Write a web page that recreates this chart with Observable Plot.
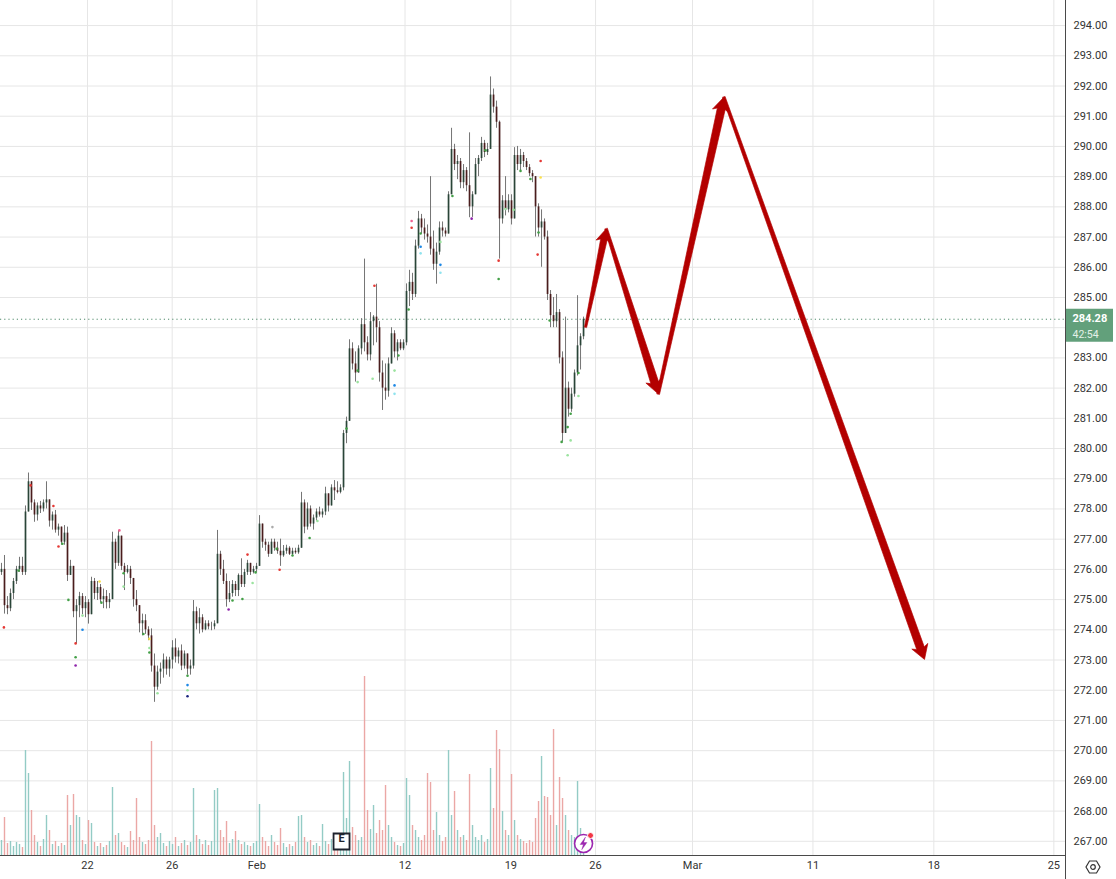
<!DOCTYPE html>
<html>
<head>
<meta charset="utf-8">
<script src="https://cdn.jsdelivr.net/npm/d3@7"></script>
<script src="https://cdn.jsdelivr.net/npm/@observablehq/plot@0.6"></script>
<style>
html, body { margin: 0; padding: 0; background: #fff; }
#chart { position: relative; width: 1116px; height: 879px; overflow: hidden; background: #fff; }
#chart > svg { position: absolute; left: 0; top: 0; }
</style>
</head>
<body>
<div id="chart"></div>
<script>
// ---------- DATA ----------
// time axis: trading-session index, 0 = Jan 22
const dateTickPos    = [0, 4, 8, 15, 20, 24, 28.58, 34.27, 39.98, 45.65];
const dateTickLabels = ["22", "26", "Feb", "12", "19", "26", "Mar", "11", "18", "25"];
const priceTicks = d3.range(267, 295); // 267.00 … 294.00

// bars: first bar time, spacing (sessions per bar)
const firstBarTime = -4.063;
const barStep = 0.14173;
const firstOpen = 275.9;

const barHigh = [
  276.2, 276.46, 275.1, 275.35, 275.7, 276.1, 276.4, 276.4, 278.1, 279.19,
  278.9, 278.3, 278.2, 278.25, 278.3, 278.9, 278.3, 277.9, 277.95, 277.5,
  277.4, 277.45, 277.4, 276.3, 276.0, 275.0, 275.24, 275.2, 275.1, 275.0,
  275.74, 275.7, 275.6, 275.5, 275.35, 275.3, 275.2, 277.23, 277.0, 277.29,
  277.1, 276.2, 276.13, 276.1, 275.6, 275.3, 274.6, 274.52, 274.5, 274.1,
  274.03, 273.2, 272.8, 272.9, 273.2, 273.1, 273.09, 273.64, 273.7, 273.4,
  273.5, 273.3, 273.2, 273.0, 274.97, 274.75, 274.7, 274.5, 274.3, 274.3,
  274.25, 274.3, 277.29, 276.6, 276.3, 275.85, 275.6, 275.63, 275.6, 275.85,
  276.35, 276.0, 276.3, 276.2, 276.1, 276.2, 277.78, 277.45, 277.0, 276.9,
  277.0, 277.0, 276.9, 277.0, 276.79, 276.8, 276.75, 276.7, 276.7, 276.8,
  278.55, 278.3, 278.2, 278.1, 277.8, 278.0, 278.06, 278.0, 278.72, 278.5,
  278.8, 278.94, 278.9, 278.8, 280.6, 281.04, 283.6, 283.5, 283.2, 283.4,
  284.3, 286.27, 283.7, 284.5, 284.4, 285.44, 284.2, 282.9, 282.8, 283.0,
  284.0, 283.9, 283.6, 283.6, 283.6, 285.45, 285.9, 285.8, 286.9, 287.85,
  287.75, 287.6, 287.4, 289.0, 287.2, 286.8, 287.5, 287.5, 287.3, 288.5,
  290.6, 290.07, 289.7, 289.6, 289.4, 289.3, 290.45, 288.5, 289.6, 289.7,
  290.3, 290.2, 290.1, 292.3, 291.9, 291.5, 290.84, 288.37, 289.0, 288.4,
  288.4, 289.96, 290.0, 289.9, 289.8, 289.6, 289.4, 289.2, 288.9, 288.1,
  287.9, 287.6, 287.2, 285.23, 285.0, 285.1, 284.6, 283.2, 284.35, 282.2,
  282.0, 282.6, 285.06, 283.8, 284.35
];
const barLow = [
  275.8, 274.52, 274.5, 274.6, 275.0, 275.5, 275.9, 275.8, 275.8, 277.9,
  277.95, 277.56, 277.6, 277.85, 277.9, 278.0, 277.4, 277.3, 277.2, 277.1,
  276.8, 276.8, 275.6, 275.8, 274.4, 273.53, 274.4, 274.5, 274.4, 274.19,
  274.5, 275.0, 274.97, 274.9, 274.7, 274.69, 274.7, 275.0, 276.0, 276.1,
  275.96, 275.3, 275.85, 275.5, 274.75, 274.6, 273.9, 273.8, 273.85, 273.64,
  272.6, 271.6, 272.0, 272.2, 272.4, 272.5, 272.43, 272.7, 272.9, 272.87,
  272.65, 272.7, 272.5, 272.5, 272.7, 274.0, 273.86, 273.9, 273.97, 274.0,
  273.97, 274.0, 274.2, 275.8, 275.5, 274.75, 274.9, 275.08, 275.1, 275.1,
  275.4, 275.4, 275.8, 275.8, 275.85, 275.9, 276.1, 276.7, 276.6, 276.4,
  276.5, 276.6, 276.5, 276.1, 276.4, 276.5, 276.46, 276.46, 276.5, 276.5,
  276.7, 277.18, 277.3, 277.4, 277.3, 277.6, 277.73, 277.7, 277.78, 277.9,
  278.1, 278.28, 278.5, 278.5, 278.6, 280.16, 280.9, 282.6, 282.2, 282.6,
  283.1, 283.2, 282.9, 282.9, 283.4, 283.5, 282.2, 281.26, 281.6, 281.7,
  282.8, 283.0, 282.9, 283.24, 283.24, 283.4, 284.7, 284.9, 285.0, 286.6,
  287.1, 286.9, 286.8, 286.4, 285.9, 285.44, 286.4, 287.0, 287.0, 287.1,
  288.4, 289.2, 288.9, 288.6, 288.6, 288.5, 287.64, 287.65, 288.4, 289.0,
  289.5, 289.63, 289.7, 289.9, 291.1, 290.6, 286.27, 287.43, 287.7, 287.8,
  287.4, 287.6, 289.2, 289.2, 289.3, 289.2, 289.0, 288.8, 287.0, 287.0,
  286.0, 286.9, 284.9, 284.0, 284.0, 284.0, 282.8, 280.22, 280.5, 281.04,
  281.2, 281.7, 282.4, 282.6, 283.6
];
const barClose = [
  276.0, 274.8, 274.7, 275.2, 275.6, 276.0, 276.1, 275.9, 277.9, 278.9,
  278.2, 277.8, 278.1, 278.0, 278.2, 278.3, 277.6, 277.8, 277.3, 277.4,
  276.9, 277.2, 275.8, 276.1, 274.6, 274.8, 275.1, 274.7, 274.9, 274.5,
  275.6, 275.2, 275.4, 275.0, 275.1, 274.9, 275.0, 276.9, 276.2, 277.1,
  276.1, 275.9, 276.0, 275.7, 275.0, 274.8, 274.2, 274.3, 274.0, 273.8,
  272.8, 272.1, 272.6, 272.7, 273.0, 272.7, 273.0, 273.4, 273.1, 273.3,
  272.8, 273.2, 272.7, 272.8, 274.6, 274.2, 274.4, 274.0, 274.2, 274.1,
  274.1, 274.2, 276.5, 276.0, 275.6, 275.0, 275.2, 275.5, 275.3, 275.8,
  275.5, 275.9, 276.2, 275.9, 276.0, 276.1, 277.5, 276.9, 276.8, 276.5,
  276.9, 276.7, 276.6, 276.45, 276.6, 276.7, 276.5, 276.6, 276.55, 276.7,
  278.2, 277.4, 278.0, 277.5, 277.7, 277.9, 277.8, 277.9, 278.5, 278.1,
  278.7, 278.6, 278.55, 278.7, 280.5, 280.9, 283.3, 282.8, 282.5, 283.3,
  284.1, 283.5, 283.1, 284.2, 284.35, 284.0, 282.5, 282.0, 281.9, 282.8,
  283.8, 283.2, 283.5, 283.3, 283.5, 285.2, 285.5, 285.1, 286.7, 287.6,
  287.3, 287.1, 287.0, 286.6, 286.1, 286.5, 287.3, 287.2, 287.1, 288.4,
  289.9, 289.4, 289.5, 288.8, 289.2, 288.7, 288.0, 288.4, 289.4, 289.6,
  290.1, 289.8, 289.9, 291.7, 291.3, 290.8, 287.6, 288.2, 287.9, 288.2,
  287.6, 289.7, 289.4, 289.7, 289.5, 289.3, 289.1, 289.0, 288.0, 287.3,
  287.5, 287.0, 285.1, 284.4, 284.2, 284.5, 283.0, 280.5, 282.0, 281.3,
  281.8, 282.5, 283.4, 283.7, 284.28
];
// volume, thousands of shares
const barVolume = [
  150, 380, 120, 140, 90, 130, 110, 80, 1050, 820,
  450, 200, 130, 90, 160, 400, 250, 110, 140, 90,
  120, 100, 600, 300, 610, 400, 380, 150, 110, 350,
  320, 130, 90, 120, 80, 100, 140, 680, 200, 220,
  130, 100, 80, 240, 150, 570, 180, 130, 110, 150,
  1140, 300, 180, 220, 120, 90, 140, 110, 180, 90,
  120, 150, 100, 130, 670, 200, 160, 110, 150, 100,
  140, 650, 670, 250, 180, 340, 120, 160, 240, 150,
  110, 130, 100, 90, 120, 140, 510, 180, 140, 90,
  200, 130, 100, 270, 120, 80, 110, 90, 130, 390,
  400, 180, 130, 150, 100, 120, 90, 310, 140, 110,
  160, 120, 90, 130, 830, 370, 940, 280, 200, 150,
  180, 1790, 450, 260, 500, 220, 350, 250, 700, 300,
  180, 130, 100, 90, 120, 770, 600, 300, 250, 180,
  150, 200, 820, 730, 250, 430, 200, 140, 180, 1050,
  400, 640, 250, 180, 200, 150, 810, 300, 180, 150,
  200, 130, 160, 870, 470, 1250, 1060, 440, 250, 200,
  810, 350, 200, 160, 140, 120, 150, 130, 370, 540,
  990, 590, 580, 400, 1260, 300, 780, 570, 400, 250,
  200, 180, 740, 270, 150
];

// small indicator markers (bar number, price, kind)
const dotBar = [0.8, 5.7, 9.7, 17.3, 19, 20.3, 22.3, 24.7, 24.7, 24.7, 27, 27, 32.7, 33.3, 39.3, 40.7, 40.7, 47.3, 49.3, 49.3, 49.3, 52, 62, 62, 62, 62, 75.7, 77, 80.3, 82, 83.7, 84.7, 90.3, 91.7, 92.7, 97, 102.7, 105.3, 115, 118.7, 118.7, 123.7, 124.3, 131, 131, 131, 132.3, 135.7, 136.7, 136.7, 139.7, 139.7, 139.7, 146.3, 146.3, 146.3, 150.3, 156.7, 161.3, 165.7, 165.7, 168, 170.7, 173, 176.3, 179.7, 179.7, 178.7, 179, 182.7, 186.7, 188.7, 188.7, 189.7, 189.7, 192.3, 192.3];
const dotPrice = [274.08, 275.96, 278.78, 278.1, 276.76, 276.85, 274.99, 273.55, 273.09, 272.82, 274.47, 274.0, 275.6, 274.9, 277.29, 275.87, 275.43, 273.86, 273.7, 273.4, 273.25, 271.9, 272.48, 272.17, 272.0, 271.8, 274.67, 274.97, 275.02, 276.49, 275.55, 275.9, 277.4, 276.68, 275.99, 276.46, 277.04, 277.6, 280.66, 282.58, 282.2, 282.31, 285.39, 282.58, 282.09, 281.81, 283.08, 284.6, 287.53, 287.31, 287.12, 286.68, 286.46, 286.84, 286.08, 285.82, 288.36, 287.61, 289.87, 286.22, 285.61, 287.93, 287.9, 289.19, 288.92, 289.52, 288.97, 286.42, 287.15, 284.24, 280.22, 280.71, 279.78, 280.27, 281.15, 282.5, 281.74];
const dotKind = ["red","green","red","red","red","green","green","red","green","purple","lime","blue","yellow","green","pink","green","lime","green","yellow","lime","green","lime","green","blue","lime","navy","purple","green","green","red","lime","green","gray","green","red","green","green","lime","green","green","lime","lime","red","lime","blue","cyan","green","green","pink","red","green","blue","cyan","lime","blue","cyan","green","purple","green","red","green","lime","lime","green","green","red","yellow","red","green","green","green","green","lime","lime","green","green","lime"];

// drawn forecast arrows: vertices (session index, price)
const arrowTime  = [23.53, 24.50, 26.96, 30.06, 39.54];
const arrowPrice = [284.02, 287.27, 281.81, 291.63, 273.02];

const lastPrice = 284.28;
const countdown = "42:54";
const earningsTime = [12.0];

// ---------- STYLE ----------
const X_DOMAIN = [-4.11, 46.2];
const Y_DOMAIN = [266.53, 294.83];
const VOL_DOMAIN = [0, 8550];
const W = 1116, H = 879;
const frame = {width: W, height: H, marginLeft: 0, marginRight: 51, marginTop: 0, marginBottom: 24};
const baseStyle = {fontFamily: "Roboto, 'Liberation Sans', sans-serif", fontSize: "11px", color: "#333", background: "transparent", overflow: "visible"};
const GRID = "#e6e6e6";
const UP_BODY = "#2a4538", DOWN_BODY = "#4a1d1d", WICK = "#747474";
const UP_VOL = "#93cbc5", DOWN_VOL = "#eba7a5";
const ARROW = "#b30000";
const NEWS = "#9c27b0";
const palette = {green: "#43a047", lime: "#9be39f", red: "#e53935", pink: "#f06292", blue: "#1e88e5", purple: "#8e24aa", yellow: "#fbe14b", cyan: "#8fe3ee", navy: "#1a237e", gray: "#aaaaaa"};

// ---------- BUILD ----------
const bars = barClose.map((c, i) => {
  const o = i ? barClose[i - 1] : firstOpen;
  return {t: firstBarTime + i * barStep, open: o, close: c,
          high: Math.max(barHigh[i], o, c), low: Math.min(barLow[i], o, c), volume: barVolume[i]};
});
const dots = dotBar.slice(0, Math.min(dotBar.length, dotPrice.length, dotKind.length))
  .map((b, i) => ({t: firstBarTime + b * barStep, p: dotPrice[i], kind: dotKind[i]}));
const tickLabel = new Map(dateTickPos.map((p, i) => [p, dateTickLabels[i]]));
const lastTime = bars[bars.length - 1].t;
// the last-price badge hides the scale label it covers
const axisPriceTicks = priceTicks.filter(p => Math.abs(p - lastPrice) > 0.5);

const chart = document.getElementById("chart");

// layer 1: grid
const gridLayer = Plot.plot({
  ...frame, style: {...baseStyle, background: "#fff"},
  x: {domain: X_DOMAIN, axis: null},
  y: {domain: Y_DOMAIN, axis: null},
  marks: [
    Plot.ruleY(priceTicks, {stroke: GRID}),
    Plot.ruleX(dateTickPos, {stroke: GRID})
  ]
});
chart.append(gridLayer);

// layer 2: volume
const volLayer = Plot.plot({
  ...frame, style: baseStyle,
  x: {domain: X_DOMAIN, axis: null},
  y: {domain: VOL_DOMAIN, axis: null},
  marks: [
    Plot.ruleX(bars, {x: "t", y1: 0, y2: "volume", strokeWidth: 1.4,
      stroke: d => d.close >= d.open ? UP_VOL : DOWN_VOL})
  ]
});
chart.append(volLayer);

// arrows, sized through the plot's own scales
const sx = gridLayer.scale("x"), sy = gridLayer.scale("y");
function arrowShape(w0, w1, hw, hl) {
  return {draw(ctx, l) {
    const b = l - hl;
    ctx.moveTo(w0, 0);
    ctx.lineTo(w1, -(b + 2));
    ctx.lineTo(hw, -b);
    ctx.lineTo(0, -l);
    ctx.lineTo(-hw, -b);
    ctx.lineTo(-w1, -(b + 2));
    ctx.lineTo(-w0, 0);
    ctx.closePath();
  }};
}
const arrowMarks = [];
for (let i = 0; i < arrowTime.length - 1; i++) {
  const x1 = sx.apply(arrowTime[i]), y1 = sy.apply(arrowPrice[i]);
  const x2 = sx.apply(arrowTime[i + 1]), y2 = sy.apply(arrowPrice[i + 1]);
  const len = Math.hypot(x2 - x1, y2 - y1);
  const rot = Math.atan2(x2 - x1, -(y2 - y1)) * 180 / Math.PI;
  const shape = i === 0 ? arrowShape(1.1, 3.3, 7.5, 13) : arrowShape(1.4, 4.0, 8.5, 14);
  arrowMarks.push(Plot.vector([{t: arrowTime[i], p: arrowPrice[i]}], {
    x: "t", y: "p", length: len, rotate: rot, anchor: "start", shape,
    fill: ARROW, stroke: ARROW, strokeWidth: 0.6, strokeLinejoin: "round"
  }));
}
// lightning bolt glyph for the news marker
const boltShape = {draw(ctx) {
  ctx.moveTo(1.8, -6.2);
  ctx.lineTo(-3.4, 1.0);
  ctx.lineTo(-0.2, 1.0);
  ctx.lineTo(-1.8, 6.2);
  ctx.lineTo(3.4, -1.0);
  ctx.lineTo(0.2, -1.0);
  ctx.closePath();
}};

// layer 3: price series, axes, annotations
const mainLayer = Plot.plot({
  ...frame, style: baseStyle,
  x: {domain: X_DOMAIN, axis: null},
  y: {domain: Y_DOMAIN, axis: null},
  marks: [
    Plot.ruleY([lastPrice], {stroke: "#4f8a6a", strokeDasharray: "1.2,3", strokeWidth: 1}),
    Plot.ruleX(bars, {x: "t", y1: "low", y2: "high", stroke: WICK, strokeWidth: 1}),
    Plot.ruleX(bars, {x: "t", y1: "open", y2: "close", strokeWidth: 1.7,
      stroke: d => d.close >= d.open ? UP_BODY : DOWN_BODY}),
    Plot.dot(dots, {x: "t", y: "p", r: 1.3, fill: d => palette[d.kind], stroke: null}),
    ...arrowMarks,
    Plot.ruleX([X_DOMAIN[1]], {stroke: "#4a4a4a", strokeWidth: 1, insetBottom: -24}),
    Plot.ruleY([Y_DOMAIN[0]], {stroke: "#4a4a4a", strokeWidth: 1}),
    Plot.axisY(axisPriceTicks, {anchor: "right", tickSize: 0, tickPadding: 8, label: null,
      tickFormat: d => d.toFixed(2), fill: "#333", fontSize: 11}),
    Plot.axisX(dateTickPos, {anchor: "bottom", tickSize: 0, tickPadding: 6, label: null,
      tickFormat: d => tickLabel.get(d), fill: "#333", fontSize: 11}),
    // last price label
    Plot.rect([lastPrice], {x1: X_DOMAIN[1], x2: X_DOMAIN[1], y1: d => d, y2: d => d,
      insetLeft: 1, insetRight: -48, insetTop: -10, insetBottom: -23, fill: "#62a07b"}),
    Plot.text([lastPrice], {x: X_DOMAIN[1], y: d => d, text: d => d.toFixed(2), textAnchor: "start",
      dx: 7, dy: -1, fill: "#ffffff", fontSize: 11, fontWeight: "bold"}),
    Plot.text([countdown], {x: X_DOMAIN[1], y: () => lastPrice, text: d => d, textAnchor: "start",
      dx: 7, dy: 15, fill: "#e3f1e8", fontSize: 10.5}),
    // earnings marker
    Plot.dot(earningsTime, {x: d => d, frameAnchor: "bottom", dy: -14, symbol: "square", r: 9,
      fill: "#fff", stroke: "#1e222d", strokeWidth: 1.8}),
    Plot.text(earningsTime, {x: d => d, frameAnchor: "bottom", dy: -14, text: () => "E",
      fill: "#1e222d", fontSize: 11, fontWeight: "bold"}),
    // latest-news marker on the last bar
    Plot.dot([lastTime], {x: d => d, frameAnchor: "bottom", dy: -12, r: 9,
      fill: "#fff", stroke: NEWS, strokeWidth: 1.6}),
    Plot.vector([lastTime], {x: d => d, frameAnchor: "bottom", dy: -12, length: 0, anchor: "start",
      shape: boltShape, fill: NEWS, stroke: NEWS, strokeWidth: 0.4}),
    Plot.dot([lastTime], {x: d => d, frameAnchor: "bottom", dx: 7, dy: -20, r: 3,
      fill: "#f23645", stroke: "#fff", strokeWidth: 1})
  ]
});
chart.append(mainLayer);

// settings glyph in the scale corner
const ns = "http://www.w3.org/2000/svg";
const gear = document.createElementNS(ns, "svg");
gear.setAttribute("width", "16"); gear.setAttribute("height", "14");
gear.style.left = "1085px"; gear.style.top = "860px";
gear.innerHTML = '<path d="M4.5,1 L11.5,1 L15,7 L11.5,13 L4.5,13 L1,7 Z" fill="none" stroke="#333" stroke-width="1.2"/><circle cx="8" cy="7" r="2.3" fill="none" stroke="#333" stroke-width="1.2"/>';
chart.append(gear);
</script>
</body>
</html>
